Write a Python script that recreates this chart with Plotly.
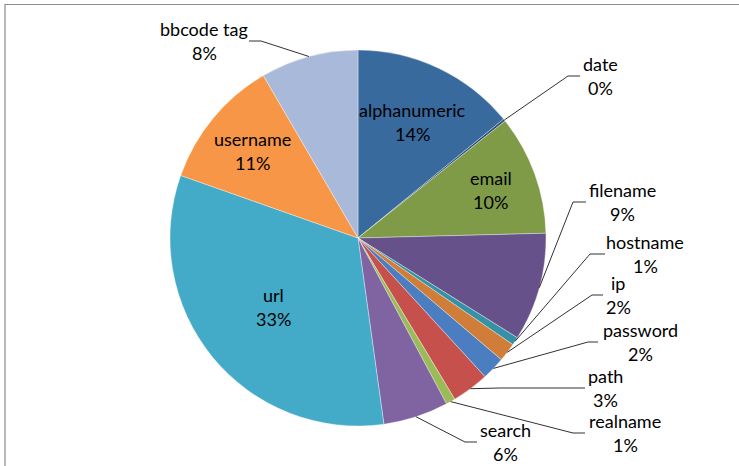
import math
import plotly.graph_objects as go

labels = ["alphanumeric", "date", "email", "filename", "hostname", "ip", "password",
          "path", "realname", "search", "url", "username", "bbcode tag"]
values = [14.1, 0.2, 10.3, 9.3, 0.7, 1.6, 2.0, 3.2, 0.8, 5.6, 32.6, 11.2, 8.4]
colors = ["#386A9D", "#2C4D75", "#7F9B48", "#67518A", "#3591A6", "#D07D39", "#4A7EC0",
          "#C5504C", "#9BBB59", "#8064A2", "#43ABC8", "#F79646", "#A9B9D9"]

W, H = 739, 466
CX, CY, R = 358, 238, 188

# labels drawn inside: fraction of the radius along the slice middle
inside_pos = {"alphanumeric": 0.68, "email": 0.75, "url": 0.58, "username": 0.73}
# labels drawn outside: text centre x, y, leader end next to text, elbow x
outside_pos = {
    "bbcode tag": (204, 41, 249, 261),
    "date": (600, 76, 580, 568),
    "filename": (622, 202, 586, 573),
    "hostname": (645, 254, 605, 590),
    "ip": (618, 295, 603, 592),
    "password": (640, 342, 598, 588),
    "path": (605, 388, 585, 500),
    "realname": (625, 433, 585, 573),
    "search": (505, 442, 477, 465),
}


def px(x):
    return x / W


def py(y):
    return 1 - y / H


fig = go.Figure(go.Pie(
    labels=labels, values=values, sort=False, direction="clockwise", rotation=0,
    marker=dict(colors=colors, line=dict(color="rgba(255,255,255,0.6)", width=0.6)),
    textinfo="none", hoverinfo="label+percent", showlegend=False,
    domain=dict(x=[px(CX - R), px(CX + R)], y=[py(CY + R), py(CY - R)]),
))

font = dict(family="Lato", size=18, color="#000000")
total = sum(values)
annotations = []
shapes = []
start = 0.0
for lab, v in zip(labels, values):
    sweep = v / total * 360
    mid = math.radians(start + sweep / 2)
    start += sweep
    pct = f"{int(v / total * 100 + 0.5)}%"
    if lab in inside_pos:
        f = inside_pos[lab]
        x = CX + f * R * math.sin(mid)
        y = CY - f * R * math.cos(mid)
    else:
        x, y, ex, elx = outside_pos[lab]
        rx = CX + R * math.sin(mid)
        ry = CY - R * math.cos(mid)
        path = f"M {px(ex)},{py(y)} L {px(elx)},{py(y)} L {px(rx)},{py(ry)}"
        shapes.append(dict(type="path", xref="paper", yref="paper", path=path,
                           line=dict(color="#1a1a1a", width=0.9)))
    for txt, dy in ((lab, -12), (pct, 12)):
        annotations.append(dict(x=px(x), y=py(y + dy), xref="paper", yref="paper", text=txt,
                                xanchor="center", yanchor="middle", showarrow=False,
                                font=font))

# chart frame
shapes.append(dict(type="rect", xref="paper", yref="paper", x0=px(5), x1=px(W + 20),
                   y0=py(H + 20), y1=py(4.5), line=dict(color="#8C8C8C", width=1.2)))

fig.update_layout(width=W, height=H, margin=dict(l=0, r=0, t=0, b=0),
                  paper_bgcolor="white", plot_bgcolor="white",
                  annotations=annotations, shapes=shapes)
fig.write_html("out.html", config={"displayModeBar": False},
               post_script="document.body.style.margin='0';")
